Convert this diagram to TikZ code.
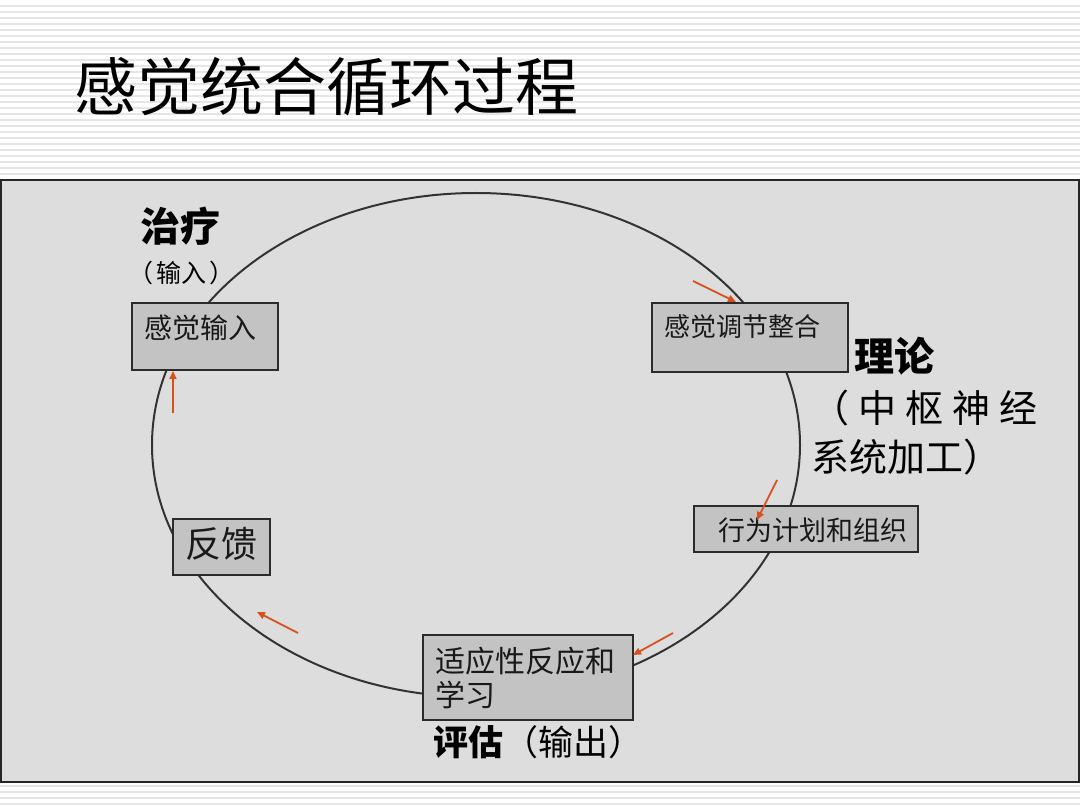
\documentclass[tikz,border=0pt]{standalone}
\usepackage{fontspec}
\usepackage{tikz}
\usetikzlibrary{arrows.meta}
\newfontfamily\cjk{Noto Sans CJK SC}
\newcommand{\setsz}[1]{\fontsize{#1}{#1}\selectfont}
\definecolor{stripegray}{HTML}{E6E6E6}
\definecolor{panelgray}{HTML}{DDDDDD}
\definecolor{boxgray}{HTML}{C3C3C3}
\definecolor{boxline}{HTML}{2B2B2B}
\definecolor{loopline}{HTML}{333333}
\definecolor{flowred}{HTML}{D9501F}

\begin{document}
\begin{tikzpicture}[
  x=1pt, y=-1pt,
  stripe/.style={draw=stripegray, line width=2pt},
  box/.style={draw=boxline, fill=boxgray, line width=2pt, anchor=north west, inner sep=0pt, text=black!90},
  flow/.style={draw=flowred, line width=1.8pt, -{Triangle[length=8pt, width=7pt]}},
  lbl/.style={inner sep=0pt, text=black}
]
  \useasboundingbox (0,0) rectangle (1080,810);

  % background
  \fill[white] (0,0) rectangle (1080,810);
  \foreach \y in {6,12,...,804} \draw[stripe] (0,\y) -- (1080,\y);
  \draw[fill=panelgray, draw=black!85, line width=1.5pt] (1,180) rectangle (1079,782);

  % title
  \node[lbl, anchor=west, font=\cjk\setsz{63}] (title) at (74,87) {感觉统合循环过程};

  % loop
  \draw[loopline, line width=2pt] (476,445) ellipse [x radius=324, y radius=252];

  % boxes
  \node[box, align=left, text width=122pt, inner xsep=12pt, inner ysep=4pt, text height=32pt, text depth=27pt, font=\cjk\setsz{28}] (sinput) at (131,302) {感觉输入};
  \node[box, align=left, text width=172pt, inner xsep=12pt, inner ysep=4pt, text height=30pt, text depth=31pt, font=\cjk\setsz{26}] (integ) at (651,302) {感觉调节整合};
  \node[box, align=right, text width=202pt, inner xsep=11pt, text height=34.8pt, text depth=11.2pt, font=\cjk\setsz{27}] (plan) at (693,505) {行为计划和组织};
  \node[box, align=center, text width=72pt, inner xsep=12.5pt, text height=38.7pt, text depth=17.3pt, font=\cjk\setsz{36}] (feedback) at (172,518) {反馈};
  \node[box, align=left, text width=186pt, inner xsep=12pt, text height=37.4pt, text depth=47.6pt, font=\cjk\fontsize{30}{34.5}\selectfont] (adapt) at (422,634) {适应性反应和\\学习};

  % labels
  \node[lbl, font=\cjk\bfseries\setsz{40}] (treat) at (180,226) {治疗};
  \node[lbl, font=\cjk\setsz{25}] (treatin) at (181,273) {（\hspace{3pt}输入\hspace{3pt}）};
  \node[lbl, font=\cjk\bfseries\setsz{40}] (theory) at (894,356) {理论};
  \node[lbl, anchor=west, font=\cjk\setsz{38}] (thy1) at (811,408) {（\hspace{9pt}中\hspace{9pt}枢\hspace{9pt}神\hspace{9pt}经};
  \node[lbl, anchor=west, font=\cjk\setsz{38}] (thy2) at (811,457) {系统加工）};
  \node[lbl, anchor=west, font=\cjk\setsz{35}] (assess) at (433,742) {{\bfseries 评估}（输出）};

  % flow arrows
  \coordinate (a1s) at (693,281); \coordinate (a1e) at (736,302);
  \coordinate (a2s) at (777,480); \coordinate (a2e) at (757,520);
  \coordinate (a3s) at (673,633); \coordinate (a3e) at (633,655);
  \coordinate (a4s) at (298,633); \coordinate (a4e) at (257,612);
  \coordinate (a5s) at (173,413); \coordinate (a5e) at (173,371);
  \draw[flow] (a1s) -- (a1e);
  \draw[flow] (a2s) -- (a2e);
  \draw[flow] (a3s) -- (a3e);
  \draw[flow] (a4s) -- (a4e);
  \draw[flow] (a5s) -- (a5e);
\end{tikzpicture}
\end{document}
